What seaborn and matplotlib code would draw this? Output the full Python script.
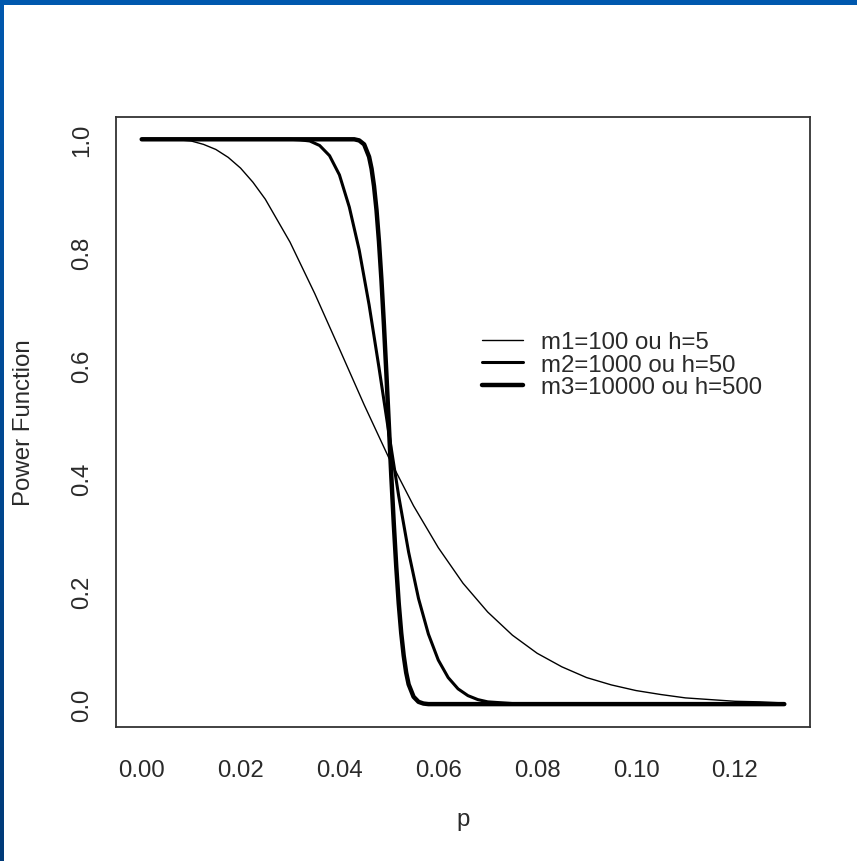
import numpy as np
import pandas as pd
import matplotlib
matplotlib.use('Agg')
import matplotlib.pyplot as plt
import seaborn as sns
from matplotlib.colors import LinearSegmentedColormap

# valeurs
P_M1 = [0.0, 0.005, 0.0075, 0.01, 0.0125, 0.015, 0.0175, 0.02, 0.0225, 0.025,
        0.03, 0.035, 0.04, 0.045, 0.05, 0.055, 0.06, 0.065, 0.07, 0.075,
        0.08, 0.085, 0.09, 0.095, 0.10, 0.105, 0.11, 0.115, 0.12, 0.125, 0.13]
POWER_M1 = [1.000, 1.000, 0.999, 0.997, 0.991, 0.982, 0.968, 0.949, 0.924, 0.894,
            0.818, 0.727, 0.629, 0.530, 0.436, 0.351, 0.277, 0.214, 0.163, 0.122,
            0.090, 0.066, 0.047, 0.034, 0.024, 0.017, 0.011, 0.008, 0.005, 0.004, 0.002]

P_M2 = [0.0, 0.01, 0.02, 0.025, 0.03, 0.032, 0.034, 0.036, 0.038, 0.040,
        0.042, 0.044, 0.046, 0.048, 0.050, 0.052, 0.054, 0.056, 0.058, 0.060,
        0.062, 0.064, 0.066, 0.068, 0.070, 0.075, 0.08, 0.09, 0.10, 0.11, 0.12, 0.13]
POWER_M2 = [1.000, 1.000, 1.000, 1.000, 1.000, 0.999, 0.997, 0.989, 0.971, 0.937,
            0.880, 0.804, 0.707, 0.596, 0.480, 0.368, 0.269, 0.187, 0.124, 0.078,
            0.047, 0.027, 0.015, 0.008, 0.004, 0.001, 0.000, 0.000, 0.000, 0.000, 0.000, 0.000]

P_M3 = [0.0, 0.01, 0.02, 0.03, 0.04, 0.042, 0.043, 0.044, 0.045, 0.046,
        0.0465, 0.047, 0.0475, 0.048, 0.0485, 0.049, 0.0495, 0.050, 0.0505, 0.051,
        0.0515, 0.052, 0.0525, 0.053, 0.0535, 0.054, 0.055, 0.056, 0.057, 0.058,
        0.06, 0.07, 0.08, 0.09, 0.10, 0.11, 0.12, 0.13]
POWER_M3 = [1.000, 1.000, 1.000, 1.000, 1.000, 1.000, 1.000, 0.998, 0.991, 0.969,
            0.948, 0.917, 0.875, 0.819, 0.751, 0.672, 0.585, 0.494, 0.403, 0.319,
            0.243, 0.178, 0.126, 0.086, 0.056, 0.035, 0.013, 0.004, 0.001, 0.000,
            0.000, 0.000, 0.000, 0.000, 0.000, 0.000, 0.000, 0.000]

LABELS = ['m1=100 ou h=5', 'm2=1000 ou h=50', 'm3=10000 ou h=500']
LINE_WIDTHS = [1.0, 2.2, 3.2]

X_TICKS = [0.00, 0.02, 0.04, 0.06, 0.08, 0.10, 0.12]
X_TICK_LABELS = ['0.00', '0.02', '0.04', '0.06', '0.08', '0.10', '0.12']
Y_TICKS = [0.0, 0.2, 0.4, 0.6, 0.8, 1.0]
Y_TICK_LABELS = ['0.0', '0.2', '0.4', '0.6', '0.8', '1.0']

sns.set_style('white')
plt.rcParams['font.family'] = ['Liberation Sans', 'DejaVu Sans']
TXT = '#2a2a2a'
AXC = '#333333'
FS = 17.3

fig = plt.figure(figsize=(8.57, 8.62), dpi=100)
ax = fig.add_axes([116 / 857, 1 - 727.7 / 862, 694 / 857, 610 / 862])

series = [(P_M1, POWER_M1), (P_M2, POWER_M2), (P_M3, POWER_M3)]
for (px, py), lab, lw in zip(series, LABELS, LINE_WIDTHS):
    df = pd.DataFrame({'p': px, 'power': py})
    sns.lineplot(data=df, x='p', y='power', ax=ax, color='black', linewidth=lw,
                 label=lab, estimator=None, sort=False, solid_capstyle='round')

ax.set_xlim(-0.0052, 0.1352)
ax.set_ylim(-0.04, 1.04)
ax.set_xticks(X_TICKS)
ax.set_xticklabels(X_TICK_LABELS)
ax.set_yticks(Y_TICKS)
ax.set_yticklabels(Y_TICK_LABELS, rotation=90, va='center')

for s in ax.spines.values():
    s.set_visible(True)
    s.set_color(AXC)
    s.set_linewidth(1.3)
ax.tick_params(direction='out', length=10, width=1.2, color=AXC,
               labelsize=FS, labelcolor=TXT)
ax.tick_params(axis='x', pad=13.5)
ax.tick_params(axis='y', pad=6.5)

ax.set_xlabel('p', fontsize=FS, color=TXT)
ax.set_ylabel('Power Function', fontsize=FS, color=TXT)
ax.xaxis.set_label_coords(0.5, -0.1333)
ax.yaxis.set_label_coords(-0.116, 0.5)

leg = ax.legend(loc='upper left', bbox_to_anchor=(0.527, 0.648), frameon=False,
                fontsize=FS, borderpad=0, borderaxespad=0, handlelength=1.7,
                handletextpad=0.78, labelspacing=0.02)
for t in leg.get_texts():
    t.set_color(TXT)
for h in leg.legend_handles:
    h.set_solid_capstyle('round')

# cadre bleu de la diapositive
fig.patches.append(plt.Rectangle((0, 1 - 6 / 862), 1, 6 / 862, transform=fig.transFigure,
                                 facecolor='#0058ae', edgecolor='none', zorder=5))
bax = fig.add_axes([0, 0, 4 / 857, 1])
grad = np.linspace(0, 1, 256).reshape(-1, 1)
cm = LinearSegmentedColormap.from_list('bord', ['#003a78', '#0058ae'])
bax.imshow(grad, aspect='auto', cmap=cm, origin='lower')
bax.set_axis_off()

fig.savefig('out.png', dpi=100)
